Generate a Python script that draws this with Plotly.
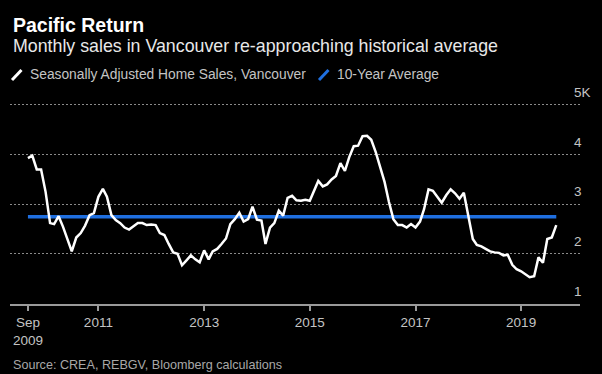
import pandas as pd
import plotly.graph_objects as go

# ---- data (thousands of home sales, seasonally adjusted) ----
start_month = "2009-09-01"
sales_k = [
    3.93, 3.98, 3.70, 3.70, 3.25, 2.62, 2.60, 2.76, 2.55, 2.30,
    2.05, 2.33, 2.42, 2.57, 2.78, 2.82, 3.15, 3.31, 3.15, 2.78,
    2.68, 2.62, 2.53, 2.49, 2.55, 2.62, 2.62, 2.58, 2.59, 2.58,
    2.42, 2.38, 2.20, 2.03, 2.00, 1.77, 1.87, 1.97, 1.89, 1.83,
    2.07, 1.89, 2.05, 2.10, 2.20, 2.31, 2.60, 2.70, 2.83, 2.65,
    2.70, 2.95, 2.69, 2.67, 2.20, 2.53, 2.62, 2.87, 2.77, 3.13,
    3.17, 3.08, 3.07, 3.09, 3.07, 3.30, 3.47, 3.36, 3.40, 3.50,
    3.57, 3.83, 3.67, 3.95, 4.17, 4.18, 4.37, 4.38, 4.30, 4.05,
    3.75, 3.45, 3.05, 2.70, 2.58, 2.58, 2.53, 2.60, 2.53, 2.65,
    2.90, 3.30, 3.27, 3.15, 3.03, 3.18, 3.30, 3.22, 3.11, 3.23,
    2.73, 2.30, 2.18, 2.15, 2.10, 2.05, 2.03, 2.02, 1.97, 1.98,
    1.78, 1.69, 1.65, 1.58, 1.53, 1.55, 1.93, 1.82, 2.30, 2.33,
    2.58,
]
ten_year_avg_k = 2.75

x_tick_dates = ["2009-09-01", "2011-01-01", "2013-01-01", "2015-01-01", "2017-01-01", "2019-01-01"]
x_tick_text = ["Sep<br>2009", "2011", "2013", "2015", "2017", "2019"]
y_tick_vals = [1, 2, 3, 4, 5]
y_tick_text = ["1", "2", "3", "4", "5K"]

title = "Pacific Return"
subtitle = "Monthly sales in Vancouver re-approaching historical average"
series_names = ["Seasonally Adjusted Home Sales, Vancouver", "10-Year Average"]
source = "Source: CREA, REBGV, Bloomberg calculations"

dates = pd.date_range(start_month, periods=len(sales_k), freq="MS")

# ---- layout constants (pixels) ----
W, H = 602, 374
L, R, T, B = 10, 22, 103, 69.5
PH = H - T - B
FONT = "Liberation Sans, Arial, sans-serif"
WHITE_LINE = "#ffffff"
BLUE = "#1f6fe0"
GREY_TXT = "#c4c4c4"


def py(ypx):
    """pixel y from top -> paper coordinate"""
    return (H - B - ypx) / PH


def px(xpx):
    return (xpx - L) / (W - L - R)


fig = go.Figure()
fig.add_trace(go.Scatter(
    x=[dates[0], dates[-1]], y=[ten_year_avg_k, ten_year_avg_k],
    mode="lines", line=dict(color=BLUE, width=3.5),
    name=series_names[1], showlegend=False, hoverinfo="skip",
))
fig.add_trace(go.Scatter(
    x=dates, y=sales_k, mode="lines",
    line=dict(color=WHITE_LINE, width=2.5),
    name=series_names[0], showlegend=False,
))

annotations = [
    dict(text=f"<b>{title}</b>", x=px(11), y=py(25), xanchor="left", yanchor="middle",
         font=dict(size=19.5, color="#ffffff", family=FONT)),
    dict(text=subtitle, x=px(10.5), y=py(45.5), xanchor="left", yanchor="middle",
         font=dict(size=17.8, color="#e8e8e8", family=FONT)),
    dict(text=series_names[0], x=px(28), y=py(74.5), xanchor="left", yanchor="middle",
         font=dict(size=13.8, color=GREY_TXT, family=FONT)),
    dict(text=series_names[1], x=px(335), y=py(74.5), xanchor="left", yanchor="middle",
         font=dict(size=13.8, color=GREY_TXT, family=FONT)),
    dict(text=source, x=px(10.5), y=py(365.5), xanchor="left", yanchor="middle",
         font=dict(size=12.6, color="#a8a8a8", family=FONT)),
]
for v, t in zip(y_tick_vals, y_tick_text):
    annotations.append(dict(text=t, x=px(572), y=v, yref="y", xanchor="left", yanchor="middle",
                            yshift=12.5, font=dict(size=13.5, color=GREY_TXT, family=FONT)))
for a in annotations:
    a.setdefault("xref", "paper")
    a.setdefault("yref", "paper")
    a["showarrow"] = False

shapes = [
    dict(type="line", xref="paper", yref="paper", x0=px(12), y0=py(80), x1=px(21.5), y1=py(70),
         line=dict(color=WHITE_LINE, width=3)),
    dict(type="line", xref="paper", yref="paper", x0=px(319), y0=py(80), x1=px(328.5), y1=py(70),
         line=dict(color=BLUE, width=3)),
]

fig.update_layout(
    width=W, height=H,
    margin=dict(l=L, r=R, t=T, b=B, pad=0),
    paper_bgcolor="#000000", plot_bgcolor="#000000",
    showlegend=False,
    annotations=annotations, shapes=shapes,
    font=dict(family=FONT, color=GREY_TXT, size=13.5),
    xaxis=dict(
        type="date", range=["2009-04-30", "2020-02-12"],
        tickvals=x_tick_dates, ticktext=x_tick_text,
        showgrid=False, zeroline=False,
        showline=True, linecolor="#9a9a9a", linewidth=1.5,
        ticks="outside", ticklen=5, tickwidth=1.5, tickcolor="#9a9a9a",
        tickfont=dict(size=13.5, color=GREY_TXT, family=FONT),
    ),
    yaxis=dict(
        range=[0.99, 5.04], tickvals=y_tick_vals, showticklabels=False,
        showgrid=True, gridcolor="#8a8a8a", gridwidth=1, griddash="2px,2px",
        zeroline=False, showline=False, ticks="",
    ),
)

fig.write_html(
    "out.html",
    config={"displayModeBar": False},
    post_script="document.body.style.margin='0px';document.body.style.background='#000';",
)
